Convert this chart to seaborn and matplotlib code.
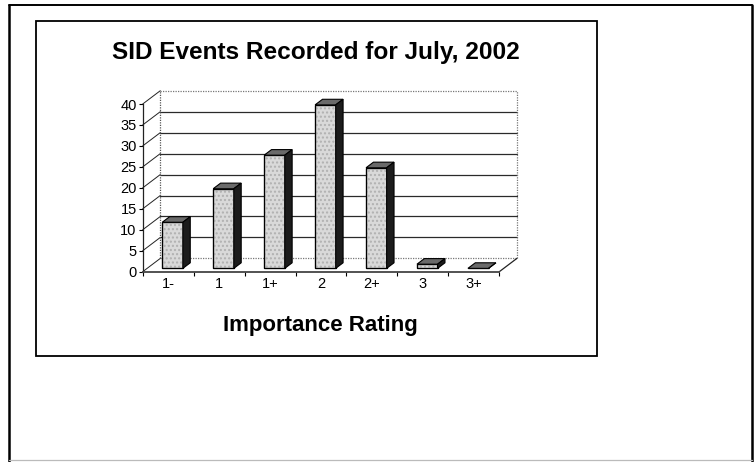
import numpy as np
import pandas as pd
import matplotlib
matplotlib.use("Agg")
import matplotlib.pyplot as plt
from matplotlib.patches import Polygon, Rectangle
from matplotlib.lines import Line2D
import seaborn as sns

# ---- data ----
ratings = ["1-", "1", "1+", "2", "2+", "3", "3+"]
events = [11, 19, 27, 39, 24, 1, 0]
y_ticks = [0, 5, 10, 15, 20, 25, 30, 35, 40]
title = "SID Events Recorded for July, 2002"
x_title = "Importance Rating"

sns.set_theme(style="white")
plt.rcParams["font.family"] = ["Liberation Sans", "DejaVu Sans"]

W, H = 756, 462
fig = plt.figure(figsize=(W / 100, H / 100), dpi=100)
fig.patch.set_facecolor("white")

# pixel geometry of the pseudo-3D plotting box
FX0, FX1 = 142.7, 499.3      # front floor edge (left, right)
FY0, FY40 = 271.7, 104.0     # value 0 and top value on the front axis
OFF_X, OFF_Y = 17.6, 13.3    # oblique offset of the back wall, px
n = len(ratings)
ymax = y_ticks[-1]
slot = (FX1 - FX0) / n
unit = (FY0 - FY40) / ymax
DX = OFF_X / slot            # depth offset in category units
DY = OFF_Y / unit            # depth offset in value units

right_px = FX1 + OFF_X
top_px = FY0 - (ymax + DY) * unit
ax = fig.add_axes([FX0 / W, 1 - FY0 / H, (right_px - FX0) / W, (FY0 - top_px) / H])
ax.set_facecolor("none")

df = pd.DataFrame({"rating": ratings, "events": events})
sns.barplot(data=df, x="rating", y="events", order=ratings, width=0.404,
            color="#d9d9d9", saturation=1, edgecolor="black", linewidth=0.8,
            errorbar=None, ax=ax, zorder=3)

ax.set_xlim(-0.5, n - 0.5 + DX)
ax.set_ylim(0, ymax + DY)
ax.set_xlabel("")
ax.set_ylabel("")

# back wall and side wall
bx, ex = -0.5 + DX, n - 0.5 + DX
for v in y_ticks:
    if v in (0, ymax):
        ax.plot([bx, ex], [v + DY, v + DY], color="#777777", lw=0.9, ls=(0, (1, 1)),
                zorder=1, clip_on=False)
    else:
        ax.plot([bx, ex], [v + DY, v + DY], color="#2a2a2a", lw=0.9, zorder=1, clip_on=False)
    ax.plot([-0.5, bx], [v, v + DY], color="#222222", lw=0.7, zorder=1, clip_on=False)
ax.plot([bx, bx], [DY, ymax + DY], color="#555555", lw=0.9, ls=(0, (1, 1)), zorder=1, clip_on=False)
ax.plot([ex, ex], [DY, ymax + DY], color="#777777", lw=0.9, ls=(0, (1, 1)), zorder=1, clip_on=False)
ax.plot([n - 0.5, ex], [0, DY], color="#222222", lw=0.9, zorder=1, clip_on=False)

# extrude every bar into a box: shift front face into the floor, add top and side
F0, BD = 0.25, 0.42
for p in list(ax.patches):
    w, h = p.get_width(), p.get_height()
    x0 = p.get_x() + F0 * DX
    b = F0 * DY
    p.set_x(x0)
    p.set_y(b)
    x1, t = x0 + w, b + h
    ox, oy = BD * DX, BD * DY
    ax.add_patch(Rectangle((x0, b), w, h, fill=False, hatch="....", edgecolor="#b0b0b0",
                           lw=0, zorder=3.1))
    ax.add_patch(Rectangle((x0, b), w, h, fill=False, edgecolor="black", lw=0.9, zorder=3.2))
    ax.add_patch(Polygon([(x0, t), (x1, t), (x1 + ox, t + oy), (x0 + ox, t + oy)],
                         closed=True, facecolor="#6a6a6a", edgecolor="black", lw=0.8, zorder=3.2))
    ax.add_patch(Polygon([(x1, b), (x1 + ox, b + oy), (x1 + ox, t + oy), (x1, t)],
                         closed=True, facecolor="#1c1c1c", edgecolor="black", lw=0.8, zorder=3.2))

# axes lines, ticks and labels
for s in ("top", "right"):
    ax.spines[s].set_visible(False)
ax.spines["left"].set_bounds(0, ymax)
ax.spines["left"].set_color("#222222")
ax.spines["left"].set_linewidth(0.9)
ax.spines["bottom"].set_bounds(-0.5, n - 0.5)
ax.spines["bottom"].set_color("#444444")
ax.spines["bottom"].set_linewidth(1.3)

ax.set_yticks(y_ticks)
ax.set_yticklabels([str(v) for v in y_ticks])
ax.set_xticks(np.arange(n))
ax.set_xticklabels(ratings)
ax.set_xticks(np.arange(-0.5, n), minor=True)
ax.tick_params(axis="y", which="major", left=True, length=3, width=0.8, color="black",
               pad=1.3, labelsize=10.5, labelcolor="black", direction="out")
ax.tick_params(axis="x", which="major", bottom=True, length=0, pad=3.8, labelsize=10.5,
               labelcolor="black")
ax.tick_params(axis="x", which="minor", bottom=True, length=3, width=0.8, color="black",
               direction="out")
ax.grid(False)

# chart titles
fig.text(315.5 / W, 1 - 59 / H, title, ha="center", va="baseline", fontsize=17.6,
         fontweight="bold", color="black")
fig.text(320 / W, 1 - 331 / H, x_title, ha="center", va="baseline", fontsize=16,
         fontweight="bold", color="black")

# chart frame and page frame
fig.add_artist(Rectangle((35.7 / W, 1 - 356 / H), (597 - 35.7) / W, (356 - 20.7) / H,
                         transform=fig.transFigure, fill=False, edgecolor="black", lw=1.3))
fig.add_artist(Line2D([9.3 / W, 9.3 / W], [0, 1 - 5 / H], transform=fig.transFigure,
                      color="black", lw=1.8))
fig.add_artist(Line2D([9.3 / W, 751.7 / W], [1 - 5 / H, 1 - 5 / H], transform=fig.transFigure,
                      color="black", lw=1.4))
fig.add_artist(Line2D([751.7 / W, 751.7 / W], [1 - 5 / H, 0], transform=fig.transFigure,
                      color="black", lw=1.8))
fig.add_artist(Line2D([9.3 / W, 751.7 / W], [1 - 460 / H, 1 - 460 / H], transform=fig.transFigure,
                      color="#bbbbbb", lw=0.9))

fig.savefig("out.png", dpi=100)
